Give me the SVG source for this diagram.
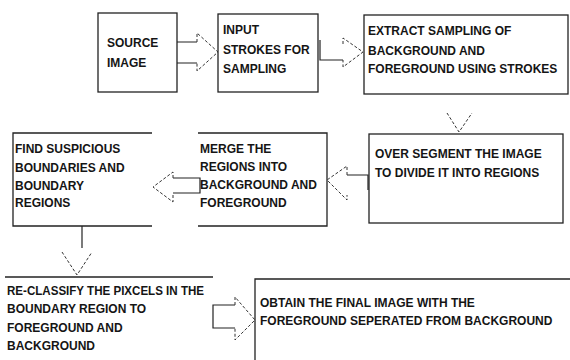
<svg xmlns="http://www.w3.org/2000/svg" width="570" height="360" viewBox="0 0 570 360">
<style>
.bx{fill:none;stroke:#222;stroke-width:1.3}
.sh{fill:none;stroke:#222;stroke-width:1.2}
.hd{fill:none;stroke:#333;stroke-width:1;stroke-dasharray:3,2}
text{font-family:"Liberation Sans",Arial,sans-serif;font-weight:bold;font-size:12px;fill:#151515}
</style>
<rect width="570" height="360" fill="#fff"/>
<g id="n1">
<rect class="bx" x="98" y="13" width="79" height="79"/>
<text x="107" y="47">SOURCE</text>
<text x="107" y="67">IMAGE</text>
</g>
<g id="n2">
<rect class="bx" x="218" y="14" width="100" height="78"/>
<text x="223" y="34">INPUT</text>
<text x="223" y="54">STROKES FOR</text>
<text x="223" y="73">SAMPLING</text>
</g>
<g id="n3">
<rect class="bx" x="364" y="15" width="204" height="79"/>
<text x="368" y="35">EXTRACT SAMPLING OF</text>
<text x="368" y="55">BACKGROUND AND</text>
<text x="368" y="73">FOREGROUND USING STROKES</text>
</g>
<g id="n4">
<rect class="bx" x="369" y="134" width="194" height="89"/>
<text x="375" y="158">OVER SEGMENT THE IMAGE</text>
<text x="375" y="177">TO DIVIDE IT INTO REGIONS</text>
</g>
<g id="n5">
<path class="bx" d="M198,133 H327 V226 H198"/>
<text x="200" y="153">MERGE THE</text>
<text x="200" y="171">REGIONS INTO</text>
<text x="200" y="189">BACKGROUND AND</text>
<text x="200" y="207">FOREGROUND</text>
</g>
<g id="n6">
<path class="bx" d="M152,133 H13 V226 H152"/>
<text x="15" y="153">FIND SUSPICIOUS</text>
<text x="15" y="172">BOUNDARIES AND</text>
<text x="15" y="190">BOUNDARY</text>
<text x="15" y="207">REGIONS</text>
</g>
<g id="n7">
<path class="bx" d="M5,277 H213"/>
<text x="7" y="295" textLength="197" lengthAdjust="spacingAndGlyphs">RE-CLASSIFY THE PIXCELS IN THE</text>
<text x="7" y="313">BOUNDARY REGION TO</text>
<text x="7" y="332">FOREGROUND AND</text>
<text x="7" y="350">BACKGROUND</text>
</g>
<g id="n8">
<path class="bx" d="M570,279 H255 V360"/>
<text x="260" y="307">OBTAIN THE FINAL IMAGE WITH THE</text>
<text x="260" y="325">FOREGROUND SEPERATED FROM BACKGROUND</text>
</g>
<g id="connectors">
<path class="sh" d="M177,42 H197 M177,63 H197"/>
<path class="hd" d="M197,42 V33 L218,52 L197,71 V63"/>
<path class="sh" d="M320,40 V60 H343"/>
<path class="hd" d="M343,44 V38 L363,52 L343,67 V60"/>
<path class="hd" d="M447,113 L459,132 L472,113"/>
<path class="sh" d="M368,190 V175 H347"/>
<path class="hd" d="M347,175 V166 L327,180 L347,200 V195"/>
<path class="sh" d="M173,178 H200 V193 H173"/>
<path class="hd" d="M173,178 V172 L153,187 L173,202 V193"/>
<path class="sh" d="M82,226 V248"/>
<path class="hd" d="M62,252 L77,275 L92,252"/>
<path class="sh" d="M235,305 H213 V328 H235"/>
<path class="hd" d="M235,305 V297 L255,320 L235,340 V328"/>
</g>
</svg>
